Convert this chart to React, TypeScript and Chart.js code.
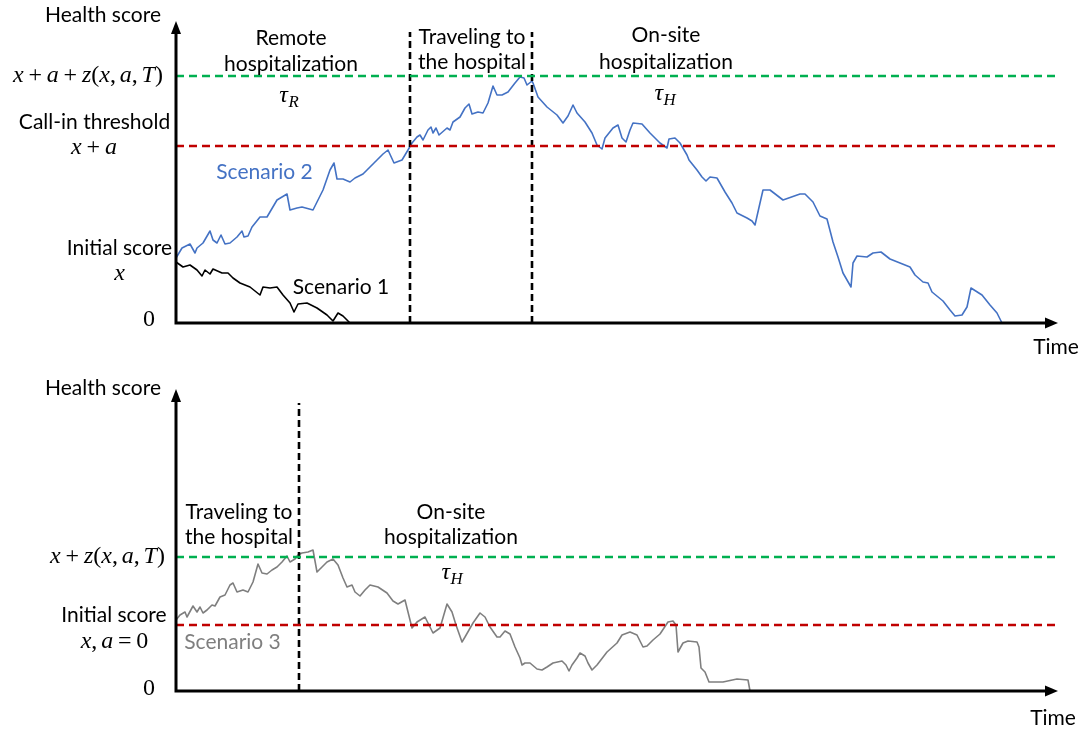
import React, { useEffect, useRef } from 'react';
import { Chart, registerables } from 'chart.js';

Chart.register(...registerables);

// ---- Top panel: scenarios 1 and 2 (time units, health score units) ----
const TOP_ZERO = 0;
const TOP_INITIAL = 62;
const TOP_CALL_IN = 177;
const TOP_UPPER = 247;
const TOP_REMOTE_END = 234;
const TOP_TRAVEL_END = 356;
const TOP_DIVIDER_HEIGHT = 291;

const scenario2Time = [
  0, 6, 14, 19, 21, 27, 34, 37, 41, 45, 49, 54, 61, 66, 68, 72, 76, 84, 91, 101,
  111, 114, 121, 126, 137, 142, 147, 154, 158, 161, 167, 174, 179, 187, 194, 201, 207, 212, 218, 226,
  232, 236, 241, 244, 247, 252, 255, 257, 260, 263, 271, 274, 277, 284, 289, 293, 296, 302, 307, 312,
  317, 321, 326, 332, 339, 344, 348, 351, 356, 357, 362, 371, 381, 387, 392, 397, 401, 409, 416, 421,
  426, 429, 437, 442, 446, 450, 454, 457, 466, 474, 484, 491, 493, 499, 504, 511, 513, 521, 526, 530,
  534, 541, 549, 556, 561, 571, 576, 579, 584, 587, 594, 607, 624, 629, 637, 644, 651, 657, 662, 667,
  675, 677, 681, 691, 697, 705, 714, 724, 734, 739, 747, 752, 756, 767, 774, 779, 786, 791, 795, 806,
  814, 821, 826,
];
const scenario2Score = [
  65, 75, 79, 70, 75, 80, 92, 83, 80, 88, 79, 80, 86, 92, 86, 87, 96, 106, 106, 123,
  129, 113, 115, 116, 113, 123, 133, 153, 160, 144, 144, 141, 145, 149, 156, 163, 169, 173, 160, 163,
  173, 180, 186, 188, 183, 193, 196, 190, 195, 188, 195, 193, 201, 206, 215, 219, 209, 211, 210, 220,
  237, 228, 228, 231, 240, 246, 245, 238, 242, 240, 226, 216, 208, 200, 207, 218, 210, 201, 190, 178,
  174, 185, 195, 198, 185, 181, 193, 200, 199, 190, 180, 175, 184, 185, 180, 168, 163, 153, 146, 142,
  146, 145, 131, 120, 110, 105, 102, 98, 120, 133, 133, 123, 129, 129, 121, 107, 104, 81, 66, 50,
  36, 60, 67, 66, 70, 71, 64, 60, 56, 48, 41, 40, 31, 22, 13, 7, 8, 16, 35, 28,
  18, 10, 0,
];

const scenario1Time = [
  0, 7, 14, 21, 26, 29, 34, 37, 46, 52, 57, 64, 74, 84, 87, 94, 101, 107, 114, 118,
  122, 131, 141, 151, 157, 162, 167, 174,
];
const scenario1Score = [
  61, 56, 58, 53, 47, 53, 49, 54, 50, 50, 45, 40, 36, 28, 36, 35, 36, 28, 20, 11,
  19, 20, 15, 8, 2, 10, 7, 0,
];

// ---- Bottom panel: scenario 3 ----
const BOT_ZERO = 0;
const BOT_INITIAL = 66;
const BOT_UPPER = 134;
const BOT_TRAVEL_END = 123;
const BOT_DIVIDER_HEIGHT = 288;

const scenario3Time = [
  0, 4, 9, 11, 17, 21, 24, 27, 31, 36, 39, 44, 49, 54, 57, 61, 67, 72, 77, 82,
  86, 91, 96, 101, 106, 111, 114, 119, 122, 126, 132, 137, 141, 146, 151, 157, 162, 167, 171, 176,
  179, 184, 189, 194, 202, 211, 217, 222, 229, 236, 241, 249, 257, 264, 271, 276, 280, 286, 289, 297,
  304, 309, 314, 321, 324, 329, 334, 339, 344, 346, 349, 354, 361, 366, 371, 377, 386, 390, 393, 396,
  401, 404, 409, 412, 416, 421, 431, 441, 446, 454, 461, 467, 471, 477, 484, 492, 497, 500, 502, 507,
  512, 521, 523, 525, 529, 533, 547, 561, 572, 574,
];
const scenario3Score = [
  71, 76, 79, 74, 85, 79, 84, 78, 81, 86, 85, 94, 96, 106, 108, 99, 101, 99, 109, 127,
  118, 117, 121, 124, 129, 135, 129, 132, 136, 138, 139, 141, 119, 124, 129, 132, 126, 113, 104, 106,
  99, 95, 101, 106, 104, 98, 90, 87, 91, 63, 69, 74, 58, 63, 87, 79, 66, 49, 54, 68,
  78, 74, 64, 54, 54, 60, 57, 44, 33, 26, 28, 28, 22, 21, 24, 28, 30, 26, 20, 26,
  33, 38, 35, 28, 21, 26, 39, 48, 56, 59, 56, 44, 45, 51, 57, 69, 70, 66, 39, 48,
  50, 49, 44, 23, 19, 9, 9, 12, 11, 0,
];

const TIME_MAX = 880;
const SCORE_MAX = 300;

const SANS = 'Lato, "Open Sans", sans-serif';
const SERIF = '"Liberation Serif", "DejaVu Serif", serif';
const BLUE = '#4472C4';
const GREY = '#7F7F7F';
const GREEN = '#00B050';
const RED = '#C00000';

type Pt = { x: number; y: number };
const zip = (xs: number[], ys: number[]): Pt[] => xs.map((x, i) => ({ x, y: ys[i] }));
const hLine = (v: number): Pt[] => [{ x: 0, y: v }, { x: TIME_MAX, y: v }];
const vLine = (t: number, h: number): Pt[] => [{ x: t, y: 0 }, { x: t, y: h }];

// Math-style text: italic letters, upright digits/operators, spaced operators.
function drawMath(ctx: CanvasRenderingContext2D, expr: string, cx: number, cy: number, size: number, sub?: string) {
  type Tok = { t: string; italic: boolean; pre: number; post: number; w: number; s: number; dy: number };
  const toks: Tok[] = [];
  for (const ch of expr) {
    if (ch === ' ') continue;
    if (ch === '+' || ch === '=') toks.push({ t: ch, italic: false, pre: 0.2 * size, post: 0.2 * size, w: 0, s: size, dy: 0 });
    else if (ch === ',') toks.push({ t: ch, italic: false, pre: 0, post: 0.16 * size, w: 0, s: size, dy: 0 });
    else if (/[A-Za-z\u03c4]/.test(ch)) toks.push({ t: ch, italic: true, pre: 0, post: 0, w: 0, s: size, dy: 0 });
    else toks.push({ t: ch, italic: false, pre: 0, post: 0, w: 0, s: size, dy: 0 });
  }
  if (sub) toks.push({ t: sub, italic: true, pre: 0.02 * size, post: 0, w: 0, s: size * 0.7, dy: size * 0.2 });
  let total = 0;
  for (const tk of toks) {
    ctx.font = `${tk.italic ? 'italic ' : ''}${tk.s}px ${SERIF}`;
    tk.w = ctx.measureText(tk.t).width;
    total += tk.pre + tk.w + tk.post;
  }
  let x = cx - total / 2;
  const base = cy + size * 0.24;
  ctx.textAlign = 'left';
  ctx.textBaseline = 'alphabetic';
  for (const tk of toks) {
    ctx.font = `${tk.italic ? 'italic ' : ''}${tk.s}px ${SERIF}`;
    x += tk.pre;
    ctx.fillText(tk.t, x, base + tk.dy);
    x += tk.w + tk.post;
  }
}

type TextLabel = { text: string; x: number; y: number; color?: string };
type MathLabel = { expr: string; x: number; y: number | ((yPix: (v: number) => number) => number); sub?: string };

function makeDecor(texts: TextLabel[], maths: MathLabel[]) {
  return {
    id: 'decor',
    afterDatasetsDraw(chart: Chart) {
      const ctx = chart.ctx;
      const xs = chart.scales.x;
      const ys = chart.scales.y;
      const left = xs.getPixelForValue(0);
      const right = xs.getPixelForValue(TIME_MAX);
      const bottom = ys.getPixelForValue(0);
      const top = ys.getPixelForValue(SCORE_MAX);
      ctx.save();
      ctx.strokeStyle = '#000';
      ctx.fillStyle = '#000';
      ctx.lineWidth = 3;
      ctx.beginPath();
      ctx.moveTo(left, bottom + 1.5);
      ctx.lineTo(left, top + 8);
      ctx.moveTo(left - 1.5, bottom);
      ctx.lineTo(right - 8, bottom);
      ctx.stroke();
      ctx.beginPath();
      ctx.moveTo(left, top - 2);
      ctx.lineTo(left - 5, top + 11);
      ctx.lineTo(left + 5, top + 11);
      ctx.closePath();
      ctx.fill();
      ctx.beginPath();
      ctx.moveTo(right + 2, bottom);
      ctx.lineTo(right - 11, bottom - 5.5);
      ctx.lineTo(right - 11, bottom + 5.5);
      ctx.closePath();
      ctx.fill();
      ctx.restore();
    },
    afterDraw(chart: Chart) {
      const ctx = chart.ctx;
      const ys = chart.scales.y;
      const yPix = (v: number) => ys.getPixelForValue(v);
      ctx.save();
      for (const l of texts) {
        ctx.font = `21px ${SANS}`;
        ctx.fillStyle = l.color || '#000';
        ctx.textAlign = 'center';
        ctx.textBaseline = 'middle';
        ctx.fillText(l.text, l.x, l.y);
      }
      ctx.fillStyle = '#000';
      for (const m of maths) {
        const y = typeof m.y === 'function' ? m.y(yPix) : m.y;
        drawMath(ctx, m.expr, m.x, y, 24, m.sub);
      }
      ctx.restore();
    },
  };
}

const lineDs = (data: Pt[], color: string, width: number, dash: number[] = []) => ({
  data,
  borderColor: color,
  borderWidth: width,
  borderDash: dash,
  pointRadius: 0,
  tension: 0,
  fill: false,
  borderJoinStyle: 'round' as const,
  clip: false as const,
});

function baseOptions(padTop: number, padBottom: number) {
  return {
    responsive: false,
    animation: false as const,
    devicePixelRatio: 1,
    events: [] as any[],
    layout: { padding: { left: 176, right: 34, top: padTop, bottom: padBottom } },
    scales: {
      x: { type: 'linear' as const, min: 0, max: TIME_MAX, display: false },
      y: { type: 'linear' as const, min: 0, max: SCORE_MAX, display: false },
    },
    plugins: { legend: { display: false }, tooltip: { enabled: false } },
  };
}

function TopPanel() {
  const ref = useRef<HTMLCanvasElement>(null);
  useEffect(() => {
    if (!ref.current) return;
    const texts: TextLabel[] = [
      { text: 'Health score', x: 103, y: 15 },
      { text: 'Remote', x: 291, y: 38 },
      { text: 'hospitalization', x: 291, y: 64 },
      { text: 'Traveling to', x: 472, y: 37 },
      { text: 'the hospital', x: 472, y: 62 },
      { text: 'On-site', x: 666, y: 35 },
      { text: 'hospitalization', x: 666, y: 62 },
      { text: 'Call-in threshold', x: 94.5, y: 122 },
      { text: 'Initial score', x: 119.5, y: 248 },
      { text: 'Scenario 2', x: 264.5, y: 172, color: BLUE },
      { text: 'Scenario 1', x: 341, y: 287 },
      { text: 'Time', x: 1056, y: 347 },
    ];
    const maths: MathLabel[] = [
      { expr: 'x+a+z(x,a,T)', x: 88, y: (p) => p(TOP_UPPER) },
      { expr: 'x+a', x: 94, y: (p) => p(TOP_CALL_IN) + 2 },
      { expr: 'x', x: 119.5, y: 274 },
      { expr: '0', x: 149, y: (p) => p(TOP_ZERO) - 3 },
      { expr: '\u03c4', x: 289, y: 96, sub: 'R' },
      { expr: '\u03c4', x: 665, y: 94, sub: 'H' },
    ];
    const chart = new Chart(ref.current, {
      type: 'line',
      data: {
        datasets: [
          lineDs(hLine(TOP_UPPER), GREEN, 2.5, [8, 5]),
          lineDs(hLine(TOP_CALL_IN), RED, 2.5, [8, 5]),
          lineDs(vLine(TOP_REMOTE_END, TOP_DIVIDER_HEIGHT), '#000', 2.6, [7, 4]),
          lineDs(vLine(TOP_TRAVEL_END, TOP_DIVIDER_HEIGHT), '#000', 2.6, [7, 4]),
          lineDs(zip(scenario1Time, scenario1Score), '#000', 1.6),
          lineDs(zip(scenario2Time, scenario2Score), BLUE, 1.6),
        ] as any,
      },
      options: baseOptions(23, 44) as any,
      plugins: [makeDecor(texts, maths) as any],
    });
    return () => chart.destroy();
  }, []);
  return <canvas ref={ref} width={1090} height={367} style={{ position: 'absolute', left: 0, top: 0 }} />;
}

function BottomPanel() {
  const ref = useRef<HTMLCanvasElement>(null);
  useEffect(() => {
    if (!ref.current) return;
    const texts: TextLabel[] = [
      { text: 'Health score', x: 103, y: 21 },
      { text: 'Traveling to', x: 239, y: 145 },
      { text: 'the hospital', x: 239, y: 170 },
      { text: 'On-site', x: 451, y: 145 },
      { text: 'hospitalization', x: 451, y: 170 },
      { text: 'Initial score', x: 114, y: 248 },
      { text: 'Scenario 3', x: 232.5, y: 275, color: GREY },
      { text: 'Time', x: 1053, y: 351 },
    ];
    const maths: MathLabel[] = [
      { expr: 'x+z(x,a,T)', x: 107.5, y: (p) => p(BOT_UPPER) },
      { expr: 'x,a=0', x: 114.5, y: 275 },
      { expr: '0', x: 149, y: (p) => p(BOT_ZERO) - 2 },
      { expr: '\u03c4', x: 452, y: 206, sub: 'H' },
    ];
    const chart = new Chart(ref.current, {
      type: 'line',
      data: {
        datasets: [
          lineDs(hLine(BOT_UPPER), GREEN, 2.5, [8, 5]),
          lineDs(hLine(BOT_INITIAL), RED, 2.5, [8, 5]),
          lineDs(vLine(BOT_TRAVEL_END, BOT_DIVIDER_HEIGHT), '#000', 2.6, [7, 4]),
          lineDs(zip(scenario3Time, scenario3Score), GREY, 1.6),
        ] as any,
      },
      options: baseOptions(24, 43) as any,
      plugins: [makeDecor(texts, maths) as any],
    });
    return () => chart.destroy();
  }, []);
  return <canvas ref={ref} width={1090} height={367} style={{ position: 'absolute', left: 0, top: 367 }} />;
}

export default function App() {
  return (
    <div style={{ position: 'absolute', left: 0, top: 0, width: 1090, height: 734, background: '#fff', overflow: 'hidden' }}>
      <TopPanel />
      <BottomPanel />
    </div>
  );
}
